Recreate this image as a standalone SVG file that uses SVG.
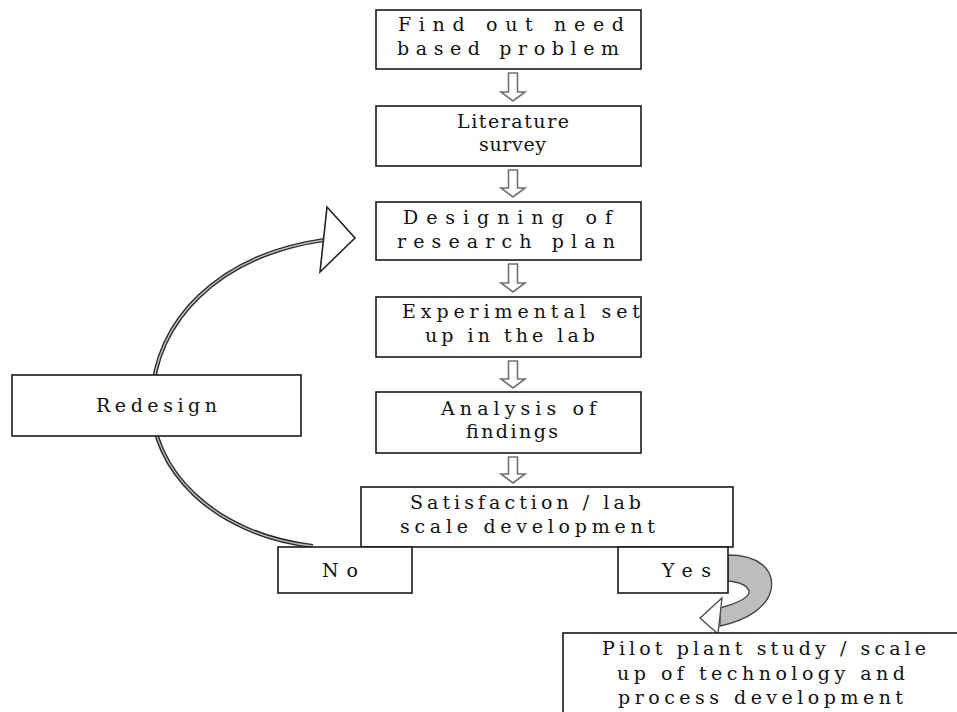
<svg xmlns="http://www.w3.org/2000/svg" width="957" height="712" viewBox="0 0 957 712">
<style>
.box{fill:#fff;stroke:#1a1a1a;stroke-width:1.6}
.t{font-family:"DejaVu Serif","Liberation Serif",serif;font-size:19px;fill:#111}
.dn{fill:#fff;stroke:#707070;stroke-width:1.6;stroke-linejoin:miter}
</style>
<rect width="957" height="712" fill="#fff"/>
<g id="connectors">
  <path class="dn" d="M508.5 73 H517.5 V92 H525 L513 101 L501 92 H508.5 Z"/>
  <path class="dn" d="M508.5 170 H517.5 V188 H525 L513 197 L501 188 H508.5 Z"/>
  <path class="dn" d="M508.5 264 H517.5 V283 H525 L513 292 L501 283 H508.5 Z"/>
  <path class="dn" d="M508.5 361 H517.5 V379 H525 L513 388 L501 379 H508.5 Z"/>
  <path class="dn" d="M508.5 457 H517.5 V474 H525 L513 483 L501 474 H508.5 Z"/>
  <g id="redesign-loop">
    <path d="M313 546 C215 535 150 470 152 400 C154 320 220 255 324 240" fill="none" stroke="#2a2a2a" stroke-width="4.2"/>
    <path d="M313 546 C215 535 150 470 152 400 C154 320 220 255 324 240" fill="none" stroke="#bdbdbd" stroke-width="1.4"/>
    <path d="M327 207 L355 238 L320 272 Z" fill="#fff" stroke="#222" stroke-width="1.6" stroke-linejoin="miter"/>
  </g>
  <g id="yes-arrow">
    <path d="M728 555 C758 555 775 569 771 590 C767 607 748 620 720 626 L720 608 C738 603 750 597 749 591 C747 585 740 582 728 581 Z" fill="#bdbdbd" stroke="#444" stroke-width="1.3"/>
    <path d="M722 598 L700 618 L718 634 Z" fill="#fff" stroke="#444" stroke-width="1.3"/>
  </g>
</g>
<g id="n1"><rect class="box" x="376" y="10" width="265" height="59"/>
  <text class="t" x="398" y="31" textLength="226" lengthAdjust="spacing">Find out need</text>
  <text class="t" x="397" y="55" textLength="222" lengthAdjust="spacing">based problem</text></g>
<g id="n2"><rect class="box" x="376" y="106" width="265" height="60"/>
  <text class="t" x="457" y="128" textLength="112" lengthAdjust="spacing">Literature</text>
  <text class="t" x="479" y="151" textLength="67" lengthAdjust="spacing">survey</text></g>
<g id="n3"><rect class="box" x="376" y="202" width="265" height="58"/>
  <text class="t" x="403" y="224" textLength="209" lengthAdjust="spacing">Designing  of</text>
  <text class="t" x="397" y="248" textLength="218" lengthAdjust="spacing">research plan</text></g>
<g id="n4"><rect class="box" x="376" y="297" width="265" height="60"/>
  <text class="t" x="402" y="318" textLength="238" lengthAdjust="spacing">Experimental  set</text>
  <text class="t" x="425" y="342" textLength="170" lengthAdjust="spacing">up in the lab</text></g>
<g id="n5"><rect class="box" x="376" y="392" width="265" height="61"/>
  <text class="t" x="441" y="415" textLength="155" lengthAdjust="spacing">Analysis  of</text>
  <text class="t" x="466" y="438" textLength="92" lengthAdjust="spacing">findings</text></g>
<g id="redesign"><rect class="box" x="12" y="375" width="289" height="61"/>
  <text class="t" x="96" y="412" textLength="121" lengthAdjust="spacing">Redesign</text></g>
<g id="satisfaction"><rect class="box" x="361" y="487" width="372" height="60"/>
  <text class="t" x="410" y="509" textLength="231" lengthAdjust="spacing">Satisfaction / lab</text>
  <text class="t" x="400" y="533" textLength="255" lengthAdjust="spacing">scale  development</text></g>
<g id="no"><rect class="box" x="278" y="547" width="134" height="46"/>
  <text class="t" x="322" y="577" textLength="36" lengthAdjust="spacing">No</text></g>
<g id="yes"><rect class="box" x="618" y="547" width="110" height="46"/>
  <text class="t" x="662" y="577" textLength="49" lengthAdjust="spacing">Yes</text></g>
<g id="pilot"><rect class="box" x="563" y="633" width="420" height="100"/>
  <text class="t" x="602" y="655" textLength="324" lengthAdjust="spacing">Pilot plant study / scale</text>
  <text class="t" x="617" y="680" textLength="288" lengthAdjust="spacing">up of technology  and</text>
  <text class="t" x="618" y="704" textLength="285" lengthAdjust="spacing">process development</text></g>
</svg>
